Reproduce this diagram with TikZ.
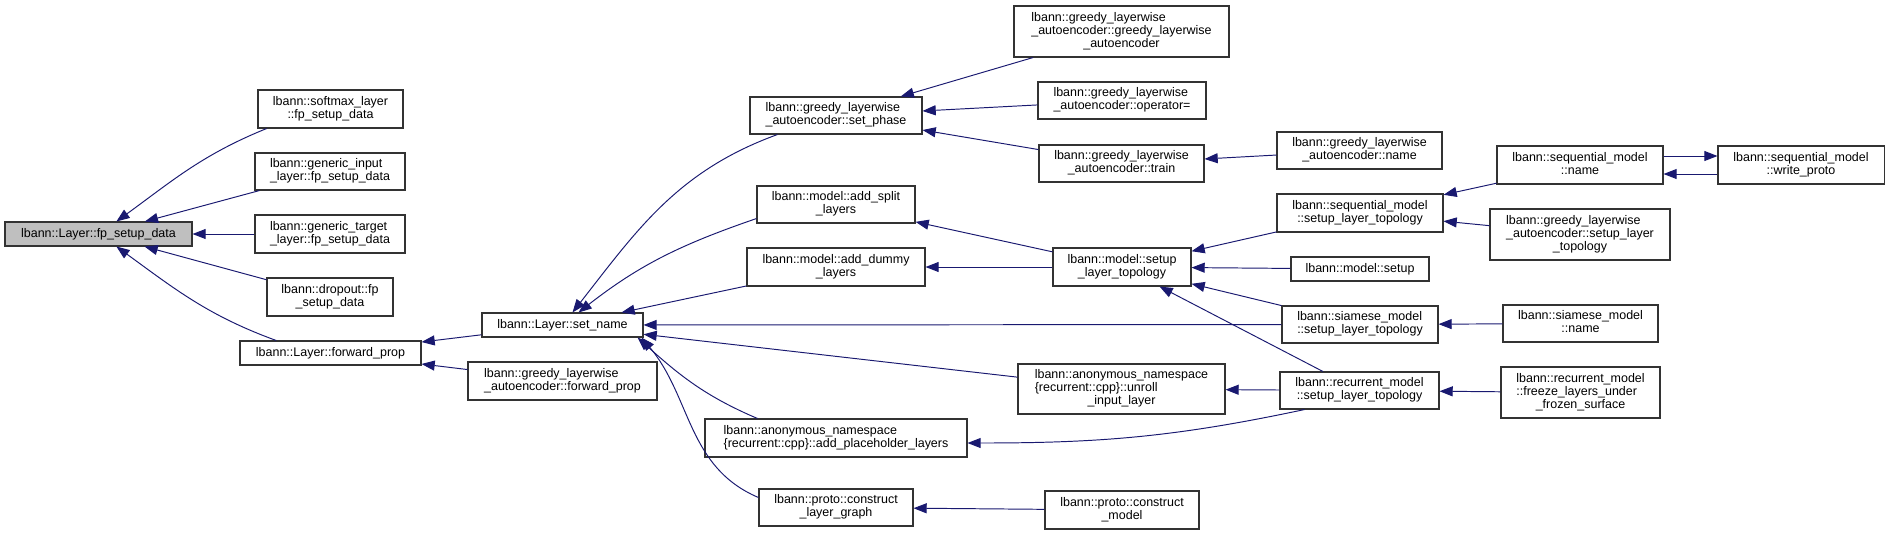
\documentclass[tikz,border=0pt]{standalone}
\usepackage{fontspec}
\setmainfont{Liberation Sans}
\usetikzlibrary{arrows.meta,calc}
\definecolor{edgeblue}{RGB}{25,25,112}
\definecolor{rootgray}{RGB}{191,191,191}
% lines before the last one flush left, last line centred
\newcommand{\lbl}[2]{\begin{tabular}{@{}l@{}}#1\\\multicolumn{1}{@{}c@{}}{#2}\end{tabular}}

\begin{document}
\begin{tikzpicture}[>={Triangle[length=7.5pt,width=5.7pt]}, x=0.02cm, y=0.02cm,
  fn/.style={draw=black!80, line width=0.6pt, fill=white, inner sep=0pt,
    font=\fontsize{7.1}{7.37}\selectfont},
  sz/.style 2 args={minimum width=#1*0.02cm, minimum height=#2*0.02cm},
  call/.style={<-, draw=edgeblue, line width=0.55pt}]
\useasboundingbox (0,0) rectangle (1889,-535);
\node[fn, sz={187}{24}, fill=rootgray] (root) at (98.5,-234) {lbann::Layer::fp\_setup\_data};
\node[fn, sz={145}{38}] (softmax) at (330.5,-109) {\lbl{lbann::softmax\_layer}{::fp\_setup\_data}};
\node[fn, sz={150}{37}] (ginput) at (330,-171.5) {\lbl{lbann::generic\_input}{\_layer::fp\_setup\_data}};
\node[fn, sz={150}{38}] (gtarget) at (330,-234) {\lbl{lbann::generic\_target}{\_layer::fp\_setup\_data}};
\node[fn, sz={126}{38}] (dropout) at (330,-297) {\lbl{lbann::dropout::fp}{\_setup\_data}};
\node[fn, sz={181}{24}] (fwdprop) at (330.5,-353) {lbann::Layer::forward\_prop};
\node[fn, sz={161}{24}] (setname) at (562.5,-325) {lbann::Layer::set\_name};
\node[fn, sz={189}{38}] (gfwd) at (562.5,-381) {\lbl{lbann::greedy\_layerwise}{\_autoencoder::forward\_prop}};
\node[fn, sz={172}{37}] (setphase) at (836,-115.5) {\lbl{lbann::greedy\_layerwise}{\_autoencoder::set\_phase}};
\node[fn, sz={158}{37}] (addsplit) at (836,-204.5) {\lbl{lbann::model::add\_split}{\_layers}};
\node[fn, sz={178}{38}] (adddummy) at (836,-267) {\lbl{lbann::model::add\_dummy}{\_layers}};
\node[fn, sz={262}{38}] (placeholder) at (836,-438) {\lbl{lbann::anonymous\_namespace}{\{recurrent::cpp\}::add\_placeholder\_layers}};
\node[fn, sz={154}{37}] (clgraph) at (836,-507.5) {\lbl{lbann::proto::construct}{\_layer\_graph}};
\node[fn, sz={215}{51}] (gctor) at (1121.5,-31.5) {\lbl{lbann::greedy\_layerwise\\\_autoencoder::greedy\_layerwise}{\_autoencoder}};
\node[fn, sz={168}{37}] (opeq) at (1122,-100.5) {\lbl{lbann::greedy\_layerwise}{\_autoencoder::operator=}};
\node[fn, sz={165}{37}] (train) at (1121.5,-163.5) {\lbl{lbann::greedy\_layerwise}{\_autoencoder::train}};
\node[fn, sz={138}{38}] (mslt) at (1122,-267) {\lbl{lbann::model::setup}{\_layer\_topology}};
\node[fn, sz={207}{50}] (unroll) at (1121.5,-389) {\lbl{lbann::anonymous\_namespace\\\{recurrent::cpp\}::unroll}{\_input\_layer}};
\node[fn, sz={154}{38}] (cmodel) at (1122,-510) {\lbl{lbann::proto::construct}{\_model}};
\node[fn, sz={165}{37}] (gname) at (1359.5,-150.5) {\lbl{lbann::greedy\_layerwise}{\_autoencoder::name}};
\node[fn, sz={166}{38}] (seqslt) at (1360,-213) {\lbl{lbann::sequential\_model}{::setup\_layer\_topology}};
\node[fn, sz={138}{24}] (msetup) at (1360,-269) {lbann::model::setup};
\node[fn, sz={156}{37}] (siamslt) at (1360,-324.5) {\lbl{lbann::siamese\_model}{::setup\_layer\_topology}};
\node[fn, sz={159}{37}] (recslt) at (1359.5,-390.5) {\lbl{lbann::recurrent\_model}{::setup\_layer\_topology}};
\node[fn, sz={166}{38}] (seqname) at (1580,-165) {\lbl{lbann::sequential\_model}{::name}};
\node[fn, sz={180}{51}] (gslt) at (1580,-234.5) {\lbl{lbann::greedy\_layerwise\\\_autoencoder::setup\_layer}{\_topology}};
\node[fn, sz={155}{37}] (siamname) at (1580.5,-323.5) {\lbl{lbann::siamese\_model}{::name}};
\node[fn, sz={159}{51}] (freeze) at (1580.5,-392.5) {\lbl{lbann::recurrent\_model\\::freeze\_layers\_under}{\_frozen\_surface}};
\node[fn, sz={166}{38}] (wproto) at (1801,-165) {\lbl{lbann::sequential\_model}{::write\_proto}};
% straight calls
\foreach \a/\b in {root/ginput, root/gtarget, root/dropout, fwdprop/setname, fwdprop/gfwd,
    setname/adddummy, setname/siamslt, setname/unroll, setphase/gctor, setphase/opeq,
    setphase/train, train/gname, addsplit/mslt, adddummy/mslt, mslt/seqslt, mslt/msetup,
    mslt/siamslt, mslt/recslt, unroll/recslt, clgraph/cmodel, seqslt/seqname, seqslt/gslt,
    siamslt/siamname, recslt/freeze}
  \draw[call] (\a) -- (\b);
% bent calls
\draw[call] (root.35) to[out=36,in=202] (softmax.197);
\draw[call] (root.-35) to[out=-36,in=160] (fwdprop.167);
\draw[call] ($(setname.north)+(10,0)$) to[out=52,in=200] (setphase.198);
\draw[call] ($(setname.north)+(16,0)$) to[out=38,in=199] (addsplit.190);
\draw[call] ($(setname.south east)+(-6,0)$) to[out=-42,in=157] ($(placeholder.north west)+(53,0)$);
\draw[call] ($(setname.south east)+(-2,0)$) to[out=-50,in=157] ($(clgraph.west)+(0,10)$);
\draw[call] ($(placeholder.east)+(0,-5)$) to[out=0,in=192] ($(recslt.south west)+(25,0)$);
\draw[call] ($(seqname.east)+(0,-9)$) -- ($(wproto.west)+(0,-9)$);
\draw[call, ->] ($(seqname.east)+(0,9)$) -- ($(wproto.west)+(0,9)$);
\end{tikzpicture}
\end{document}
